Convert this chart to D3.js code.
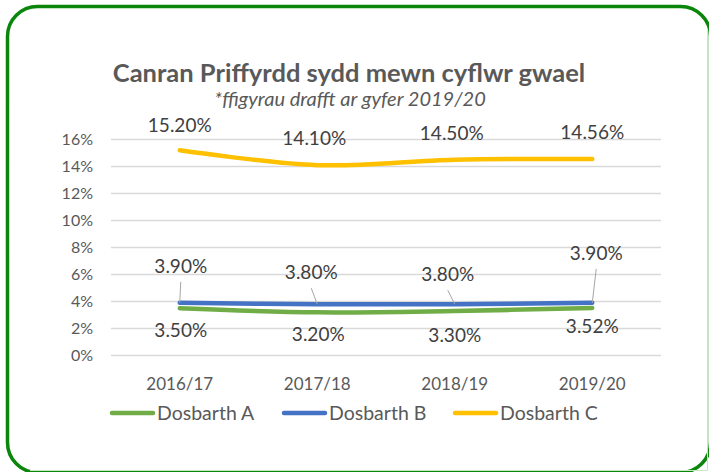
<!DOCTYPE html>
<html>
<head>
<meta charset="utf-8">
<script src="https://cdn.jsdelivr.net/npm/d3@7"></script>
<style>
  body { margin: 0; background: #fff; }
  text { font-family: Lato, "Open Sans", sans-serif; }
</style>
</head>
<body>
<script>
// chart data
var years = ["2016/17", "2017/18", "2018/19", "2019/20"];
var dosbarthA = [3.50, 3.20, 3.30, 3.52];
var dosbarthB = [3.90, 3.80, 3.80, 3.90];
var dosbarthC = [15.20, 14.10, 14.50, 14.56];
var yTicks = [0, 2, 4, 6, 8, 10, 12, 14, 16];
var seriesNames = ["Dosbarth A", "Dosbarth B", "Dosbarth C"];

var W = 709, H = 472;
var plot = {left: 111, right: 661, top: 139.5, bottom: 355.5};

// label offsets from the point (dx, dy of the text baseline)
var labelPos = {
  "Dosbarth A": [[1, 29], [1, 29], [0, 31], [0, 25]],
  "Dosbarth B": [[1, -30], [-6, -25], [-7, -23], [4, -43]],
  "Dosbarth C": [[0, -18], [-3, -20], [-3, -20], [0, -20]]
};
var colors = {"Dosbarth A": "#70AD47", "Dosbarth B": "#4472C4", "Dosbarth C": "#FFC000"};

var svg = d3.select("body").append("svg")
  .attr("width", W)
  .attr("height", H);

// frame
svg.append("rect")
  .attr("x", 7.5).attr("y", 6.5)
  .attr("width", 703).attr("height", 466)
  .attr("rx", 30).attr("ry", 30)
  .attr("fill", "#fff")
  .attr("stroke", "#0a860a")
  .attr("stroke-width", 3.5);
svg.append("path")
  .attr("d", "M707.5,30V470.5H30")
  .attr("fill", "none")
  .attr("stroke", "#c6e6c6")
  .attr("stroke-width", 1);

var x = d3.scaleBand()
  .domain(years)
  .range([plot.left, plot.right]);

var y = d3.scaleLinear()
  .domain([0, 16])
  .range([plot.bottom, plot.top]);

// gridlines
svg.append("g")
  .selectAll("line")
  .data(yTicks)
  .enter().append("line")
  .attr("x1", plot.left).attr("x2", plot.right)
  .attr("y1", d => y(d)).attr("y2", d => y(d))
  .attr("stroke", "#d9d9d9")
  .attr("stroke-width", 1.5);

// y axis labels
svg.append("g")
  .selectAll("text")
  .data(yTicks)
  .enter().append("text")
  .attr("x", 93)
  .attr("y", d => y(d))
  .attr("dy", "0.35em")
  .attr("text-anchor", "end")
  .attr("fill", "#595959")
  .style("font-size", "16px")
  .text(d => d + "%");

// x axis labels
svg.append("g")
  .selectAll("text")
  .data(years)
  .enter().append("text")
  .attr("x", d => x(d) + x.bandwidth() / 2)
  .attr("y", 390)
  .attr("text-anchor", "middle")
  .attr("fill", "#595959")
  .style("font-size", "17px")
  .text(d => d);

var series = [
  {name: seriesNames[0], values: dosbarthA},
  {name: seriesNames[1], values: dosbarthB},
  {name: seriesNames[2], values: dosbarthC}
];

var line = d3.line()
  .x((d, i) => x(years[i]) + x.bandwidth() / 2)
  .y(d => y(d))
  .curve(d3.curveCatmullRom);

series.forEach(s => {
  svg.append("path")
    .datum(s.values)
    .attr("d", line)
    .attr("fill", "none")
    .attr("stroke", colors[s.name])
    .attr("stroke-width", 4.5)
    .attr("stroke-linecap", "round");
});

// data labels
series.forEach(s => {
  s.values.forEach((v, i) => {
    var px = x(years[i]) + x.bandwidth() / 2, py = y(v);
    var off = labelPos[s.name][i];
    if (s.name == "Dosbarth B") {
      svg.append("line")
        .attr("x1", px + off[0]).attr("y1", py + off[1] + 9)
        .attr("x2", px).attr("y2", py)
        .attr("stroke", "#a6a6a6")
        .attr("stroke-width", 1);
    }
    svg.append("text")
      .attr("x", px + off[0])
      .attr("y", py + off[1])
      .attr("text-anchor", "middle")
      .attr("fill", "#404040")
      .style("font-size", "19px")
      .text(v.toFixed(2) + "%");
  });
});

// title
svg.append("text")
  .attr("x", 349).attr("y", 82)
  .attr("text-anchor", "middle")
  .attr("fill", "#595959")
  .style("font-size", "25.5px")
  .style("font-weight", "bold")
  .text("Canran Priffyrdd sydd mewn cyflwr gwael");
svg.append("text")
  .attr("x", 350).attr("y", 106)
  .attr("text-anchor", "middle")
  .attr("fill", "#595959")
  .style("font-size", "20px")
  .style("font-style", "italic")
  .text("*ffigyrau drafft ar gyfer 2019/20");

// legend
var legendX = [111, 283, 454];
var lg = svg.append("g").selectAll("g")
  .data(seriesNames)
  .enter().append("g")
  .attr("transform", (d, i) => "translate(" + legendX[i] + ",413)");
lg.append("line")
  .attr("x1", 1).attr("x2", 42)
  .attr("stroke", d => colors[d])
  .attr("stroke-width", 4.5)
  .attr("stroke-linecap", "round");
lg.append("text")
  .attr("x", 46).attr("y", 7)
  .attr("fill", "#595959")
  .style("font-size", "19.5px")
  .text(d => d);
</script>
</body>
</html>
